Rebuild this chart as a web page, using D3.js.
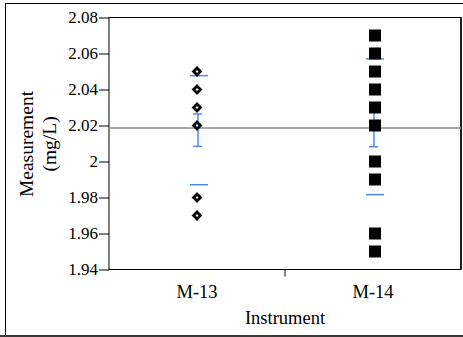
<!DOCTYPE html>
<html>
<head>
<meta charset="utf-8">
<script src="https://cdn.jsdelivr.net/npm/d3@7"></script>
<style>
  html, body { margin: 0; padding: 0; background: #fff; }
  svg { display: block; }
  text { font-family: "Liberation Serif", "Times New Roman", Times, serif; fill: #000; }
</style>
</head>
<body>
<svg id="chart" width="463" height="337"></svg>
<script>
// Instruments on the x axis
const instruments = ["M-13", "M-14"];

// Individual measurements (mg/L) per instrument
const m13Values = [2.05, 2.04, 2.03, 2.02, 1.98, 1.97];
const m14Values = [2.07, 2.06, 2.05, 2.04, 2.03, 2.02, 2.00, 1.99, 1.96, 1.95];

// Group summary statistics
const groupMeans = [2.0174, 2.0193];
const groupStdDevs = [0.0303, 0.0377];
const groupStdErrs = [0.0090, 0.0111];
const grandMean = 2.0186;

// Y axis ticks
const yTicks = [1.94, 1.96, 1.98, 2.00, 2.02, 2.04, 2.06, 2.08];
const yTickLabels = ["1.94", "1.96", "1.98", "2", "2.02", "2.04", "2.06", "2.08"];

const serif = '"Liberation Serif", "Times New Roman", Times, serif';
const svg = d3.select("#chart");
const W = 463, H = 337;
const plot = { left: 109, right: 461, top: 17.5, bottom: 269.5 };

const x = d3.scaleBand().domain(instruments).range([plot.left, plot.right]).padding(0);
const y = d3.scaleLinear().domain([1.94, 2.08]).range([plot.bottom, plot.top]);

const blue = "#4d8bea";

// outer frame
svg.append("rect").attr("width", W).attr("height", H).attr("fill", "#fff");
svg.append("line").attr("x1", 5.5).attr("x2", 5.5).attr("y1", 3).attr("y2", 336)
  .attr("stroke", "#000").attr("stroke-width", 1);
svg.append("line").attr("x1", 5).attr("x2", W).attr("y1", 3.5).attr("y2", 3.5)
  .attr("stroke", "#000").attr("stroke-width", 1);
svg.append("line").attr("x1", 0).attr("x2", W).attr("y1", 336).attr("y2", 336)
  .attr("stroke", "#3a3a3a").attr("stroke-width", 2);

// y axis
const yAxis = svg.append("g")
  .attr("transform", `translate(${plot.left},0)`)
  .call(d3.axisLeft(y).tickValues(yTicks).tickSize(10).tickPadding(1)
    .tickFormat((d, i) => yTickLabels[i]))
  .attr("font-family", serif).attr("font-size", 17);
yAxis.select(".domain").remove();
yAxis.selectAll(".tick line").attr("stroke", "#000");
yAxis.selectAll(".tick text").attr("fill", "#000");

// plot frame
svg.append("rect")
  .attr("x", plot.left).attr("y", plot.top)
  .attr("width", plot.right - plot.left).attr("height", plot.bottom - plot.top)
  .attr("fill", "none").attr("stroke", "#000").attr("stroke-width", 1);
svg.append("line").attr("x1", plot.right).attr("x2", plot.right)
  .attr("y1", plot.top).attr("y2", plot.bottom).attr("stroke", "#000").attr("stroke-width", 1.5);

// x axis: category labels and a separator tick between groups
const xAxis = svg.append("g")
  .attr("transform", `translate(0,${plot.bottom})`)
  .call(d3.axisBottom(x).tickSize(0).tickPadding(0))
  .attr("font-family", serif).attr("font-size", 18.5);
xAxis.select(".domain").remove();
xAxis.selectAll(".tick text").attr("dy", null).attr("y", 28).attr("fill", "#000");
svg.append("line")
  .attr("x1", x("M-14")).attr("x2", x("M-14"))
  .attr("y1", plot.bottom).attr("y2", plot.bottom + 7)
  .attr("stroke", "#000");

// axis titles
svg.append("text")
  .attr("x", (plot.left + plot.right) / 2).attr("y", 324)
  .attr("text-anchor", "middle").style("font-size", "18.5px")
  .text("Instrument");
const yTitle = svg.append("g").attr("transform", "translate(0,144) rotate(-90)");
yTitle.append("text").attr("x", 0).attr("y", 33)
  .attr("text-anchor", "middle").style("font-size", "19.5px").text("Measurement");
yTitle.append("text").attr("x", 0).attr("y", 56)
  .attr("text-anchor", "middle").style("font-size", "19.5px").text("(mg/L)");

// grand mean line
svg.append("line")
  .attr("x1", plot.left).attr("x2", plot.right)
  .attr("y1", y(grandMean)).attr("y2", y(grandMean))
  .attr("stroke", "#8c8c8c").attr("stroke-width", 1.5);

// group std-dev lines and std-error bars
instruments.forEach((inst, i) => {
  const cx = x(inst) + x.bandwidth() / 2;
  const g = svg.append("g");
  [groupMeans[i] + groupStdDevs[i], groupMeans[i] - groupStdDevs[i]].forEach(v => {
    g.append("line")
      .attr("x1", cx - 7).attr("x2", cx + 11)
      .attr("y1", y(v)).attr("y2", y(v))
      .attr("stroke", blue).attr("stroke-width", 1.5);
  });
  const lo = groupMeans[i] - groupStdErrs[i], hi = groupMeans[i] + groupStdErrs[i];
  g.append("line").attr("x1", cx + 1).attr("x2", cx + 1)
    .attr("y1", y(hi)).attr("y2", y(lo)).attr("stroke", blue).attr("stroke-width", 1.5);
  [hi, lo].forEach(v => {
    g.append("line").attr("x1", cx - 4).attr("x2", cx + 5)
      .attr("y1", y(v)).attr("y2", y(v)).attr("stroke", blue).attr("stroke-width", 1.5);
  });
});

// M-13 points: open diamonds
const c13 = x("M-13") + x.bandwidth() / 2;
svg.append("g").selectAll("path").data(m13Values).join("path")
  .attr("transform", d => `translate(${c13},${y(d)})`)
  .attr("d", "M0,-3.4L3.4,0L0,3.4L-3.4,0Z")
  .attr("fill", "#fff").attr("stroke", "#000").attr("stroke-width", 2.8);

// M-14 points: filled squares
const c14 = x("M-14") + x.bandwidth() / 2;
svg.append("g").selectAll("rect").data(m14Values).join("rect")
  .attr("x", c14 - 6 + 2).attr("y", d => y(d) - 6)
  .attr("width", 12).attr("height", 12)
  .attr("fill", "#000");
</script>
</body>
</html>
